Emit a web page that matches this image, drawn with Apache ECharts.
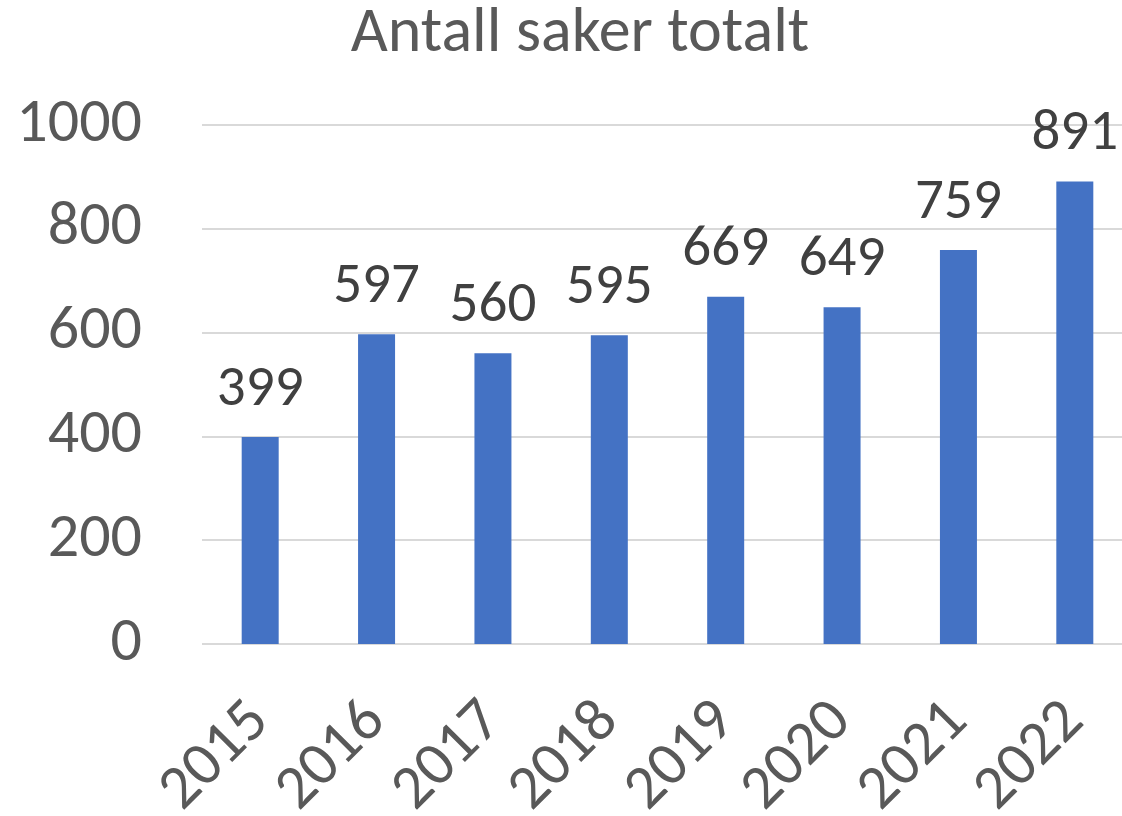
<!DOCTYPE html>
<html>
<head>
<meta charset="utf-8">
<script src="https://cdn.jsdelivr.net/npm/echarts@6/dist/echarts.min.js"></script>
<style>
  html, body { margin: 0; padding: 0; background: #fff; }
  #chart { width: 1122px; height: 816px; }
</style>
</head>
<body>
<div id="chart"></div>
<script>
// === Données ===
const aar = ['2015', '2016', '2017', '2018', '2019', '2020', '2021', '2022'];
const antallSaker = [399, 597, 560, 595, 669, 649, 759, 891];
const yTicks = [0, 200, 400, 600, 800, 1000];

const fonte = 'Carlito, Lato, sans-serif';

const chart = echarts.init(document.getElementById('chart'));
chart.setOption({
    animation: false,
    title: {
        text: 'Antall saker totalt',
        left: 575,
        top: -2,
        textAlign: 'center',
        textStyle: { fontFamily: fonte, fontSize: 64, fontWeight: 'normal', color: '#595959' }
    },
    grid: { left: 202, top: 125, bottom: 172, width: 931, outerBoundsMode: 'none' },
    xAxis: {
        type: 'category',
        data: aar,
        axisLine: { show: false },
        axisTick: { show: false },
        axisLabel: {
            rotate: 45,
            margin: 68,
            fontFamily: fonte,
            fontSize: 62,
            color: '#595959'
        }
    },
    yAxis: {
        type: 'value',
        min: yTicks[0],
        max: yTicks[yTicks.length - 1],
        interval: 200,
        axisLine: { show: false },
        axisTick: { show: false },
        axisLabel: {
            margin: 60,
            fontFamily: fonte,
            fontSize: 62,
            color: '#595959',
            formatter: v => String(v)
        },
        splitLine: { lineStyle: { color: '#d9d9d9', width: 2 } }
    },
    series: [{
        type: 'bar',
        data: antallSaker,
        barWidth: 37,
        itemStyle: { color: '#4472c4' },
        label: {
            show: true,
            position: 'top',
            distance: 18,
            fontFamily: fonte,
            fontSize: 57,
            color: '#404040'
        }
    }]
});
</script>
</body>
</html>
